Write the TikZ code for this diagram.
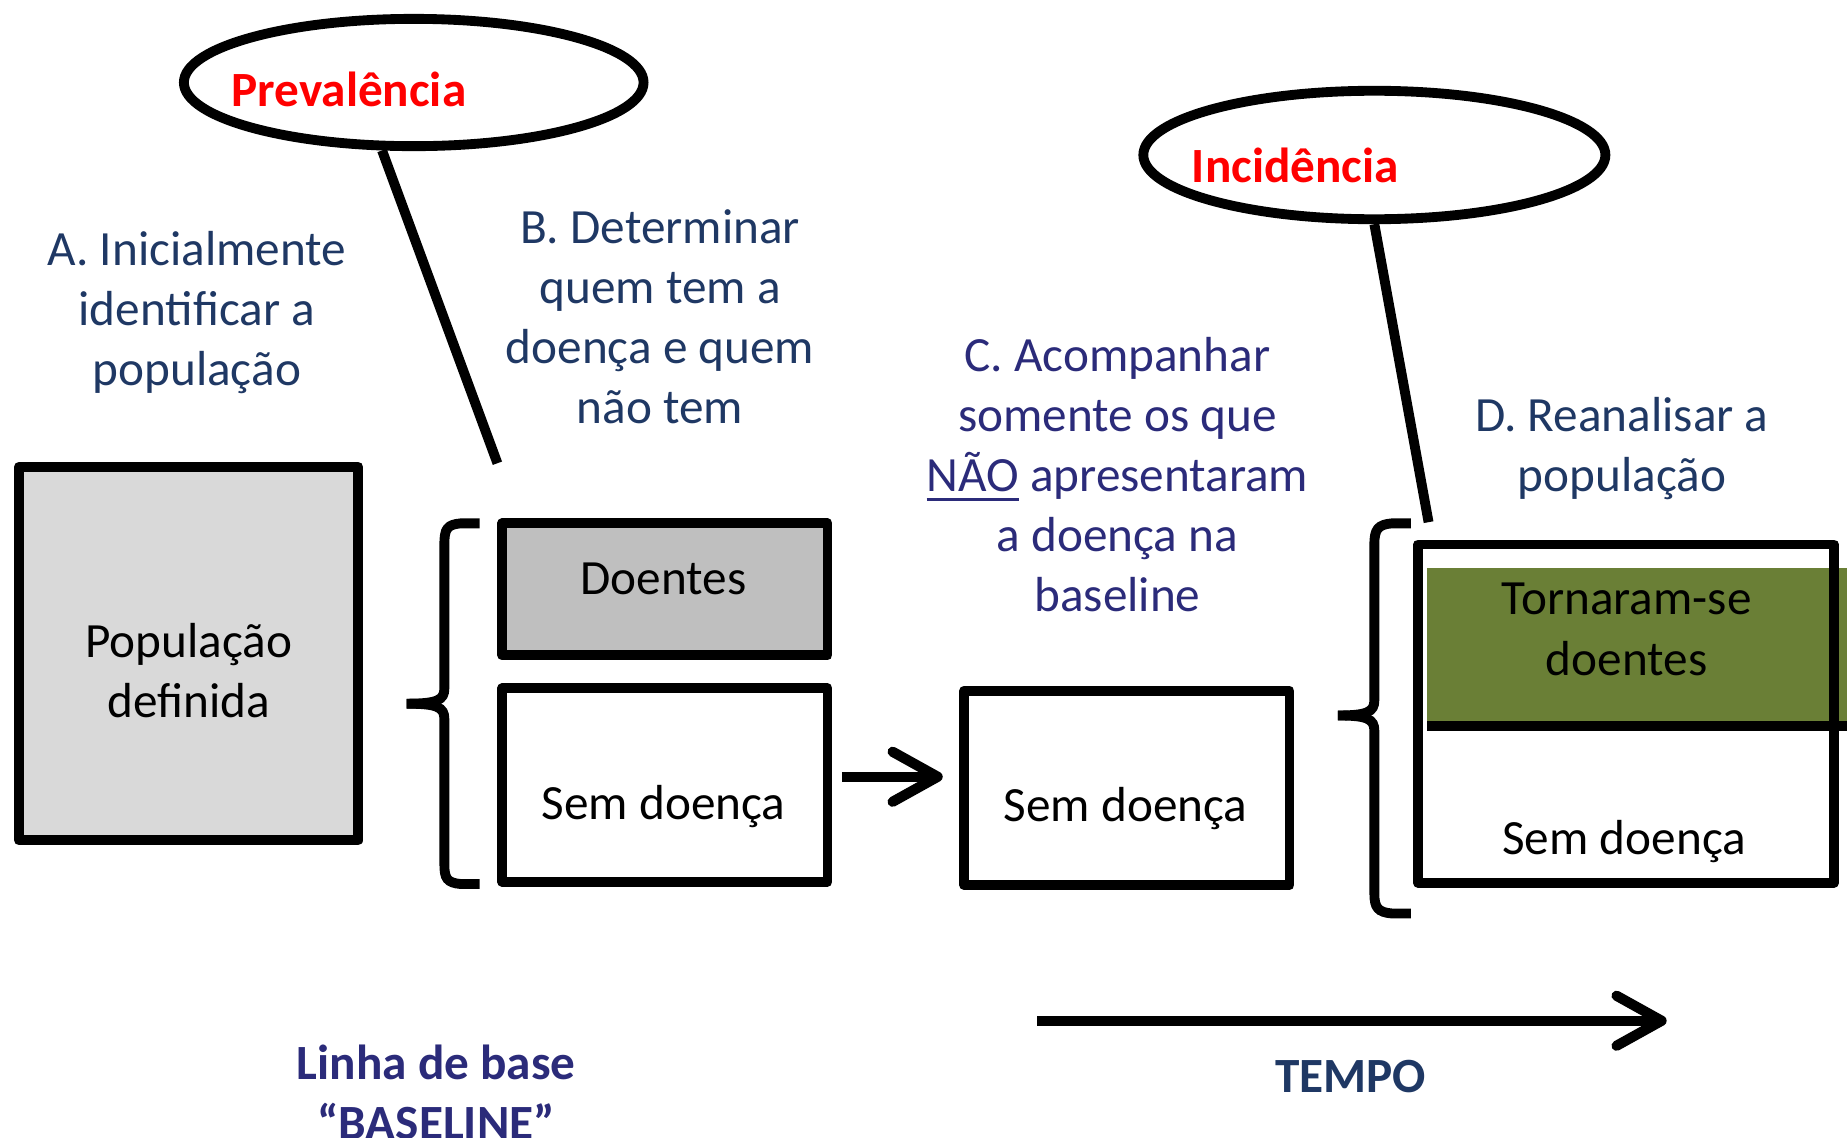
\documentclass[tikz,border=0pt]{standalone}
\usepackage{fontspec}
\setmainfont{Carlito}
\usetikzlibrary{arrows.meta,shapes.geometric,positioning}
\definecolor{navy}{HTML}{1F3864}
\definecolor{indigo}{HTML}{2B2B7A}
\definecolor{popgray}{HTML}{D9D9D9}
\definecolor{sickgray}{HTML}{BFBFBF}
\definecolor{sickgreen}{HTML}{6A7F36}
\newcommand\unitpx{0.011787cm}
\newcommand\ulword[1]{\setbox0\hbox{#1}\rlap{\rule[-0.2em]{\wd0}{0.065em}}\box0\relax}
\begin{document}
\begin{tikzpicture}[x=\unitpx, y=-\unitpx,
  thickline/.style={line width=2.8pt},
  box/.style={draw, rectangle, line width=2.8pt, line join=round, inner sep=0pt},
  bubble/.style={draw, ellipse, line width=2.8pt, inner sep=0pt},
  txt/.style={font=\fontsize{14}{17.1}\selectfont, align=center, inner sep=0pt},
  boldtxt/.style={font=\fontsize{14}{17.1}\selectfont\bfseries, align=center, inner sep=0pt},
  arrowline/.style={line width=2.9pt, -{Straight Barb[length=0.45cm,width=0.5cm,round]}}]
\useasboundingbox (0,0) rectangle (1567,965);
%the two bubbles
\node[bubble, minimum width=390*\unitpx, minimum height=108*\unitpx] (prev) at (351,70) {};
\node[boldtxt, text=red] (prevtxt) at (296,76) {Prevalência};
\node[bubble, minimum width=392*\unitpx, minimum height=109*\unitpx] (inc) at (1166,131.5) {};
\node[boldtxt, text=red] (inctxt) at (1099,140) {Incidência};
\coordinate (prevtip) at (422,393);
\coordinate (inctip) at (1212,443);
\draw[thickline] (prev.-115) -- (prevtip);
\draw[thickline] (inc.south) -- (inctip);
%steps A to D
\node[txt, text=navy] (stepA) at (167,265) {A. Inicialmente\\identificar a\\população};
\node[txt, text=navy] (stepB) at (560,268.5) {B. Determinar\\quem tem a\\doença e quem\\não tem};
\node[txt, text=indigo] (stepC) at (948,402.5) {C. Acompanhar\\somente os que\\\ulword{NÃO} apresentaram\\a doença na\\baseline};
\node[txt, text=navy] (stepD) at (1376,380.5) {D. Reanalisar a\\população};
%population
\node[box, fill=popgray, minimum width=288*\unitpx, minimum height=317*\unitpx] (pop) at (160,554.5) {};
\node[txt] (poptxt) at (160,569) {População\\definida};
%brace of the baseline
\draw[thickline] (407,444) -- (391,444) .. controls (379,445) and (377,449) .. (377,462) -- (377,584) .. controls (377,594) and (371,597) .. (345,597);
\draw[thickline] (345,597) .. controls (371,597) and (377,600) .. (377,610) -- (377,733) .. controls (377,745) and (379,749) .. (391,750) -- (407,750);
%baseline boxes
\node[box, fill=sickgray, minimum width=276*\unitpx, minimum height=112*\unitpx] (sick) at (564,500) {};
\node[txt] (sicktxt) at (563,491) {Doentes};
\node[box, fill=white, minimum width=276*\unitpx, minimum height=164*\unitpx] (semB) at (564,666) {};
\node[txt] (semBtxt) at (563,684) {Sem doença};
%follow up
\node[box, fill=white, minimum width=276*\unitpx, minimum height=165*\unitpx] (semC) at (956,668.5) {};
\node[txt] (semCtxt) at (955,686) {Sem doença};
\draw[arrowline, shorten <=8*\unitpx, shorten >=14*\unitpx] ([yshift=7*\unitpx]semB.east) -- ([yshift=9.5*\unitpx]semC.west);
%brace of the re-analysis
\draw[thickline] (1197,444) -- (1181,444) .. controls (1169,445) and (1166,449) .. (1166,462) -- (1166,594) .. controls (1166,604) and (1160,607) .. (1135,607);
\draw[thickline] (1135,607) .. controls (1160,607) and (1166,610) .. (1166,620) -- (1166,758) .. controls (1166,770) and (1169,774) .. (1181,775) -- (1197,775);
%re-analysis box
\fill[sickgreen] (1211,482) rectangle (1567,612);
\draw[line width=2.9pt] (1211,616) -- (1567,616);
\node[box, minimum width=353*\unitpx, minimum height=287*\unitpx] (reD) at (1379.5,605.5) {};
\node[txt] (newsick) at (1380,534) {Tornaram-se\\doentes};
\node[txt] (semDtxt) at (1378,714) {Sem doença};
%time axis
\coordinate (t0) at (880,866);
\coordinate (t1) at (1414,866);
\draw[arrowline] (t0) -- (t1);
\node[boldtxt, text=navy] (tempo) at (1146,913) {TEMPO};
\node[boldtxt, text=indigo] (baseline) at (370,927) {Linha de base\\“BASELINE”};
\end{tikzpicture}
\end{document}
